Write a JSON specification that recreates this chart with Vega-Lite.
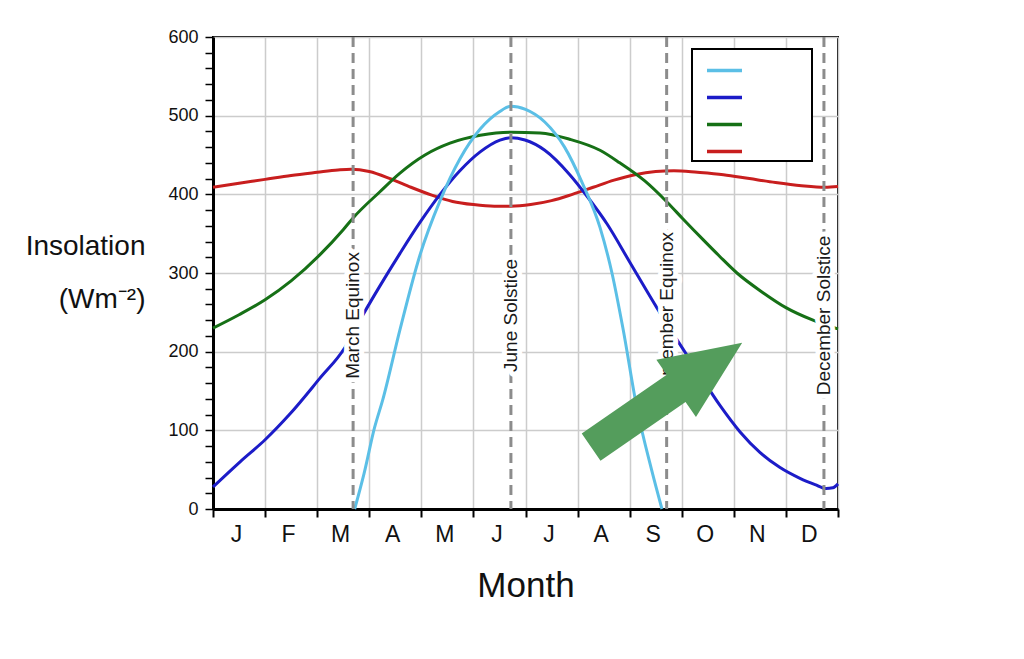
{
  "$schema": "https://vega.github.io/schema/vega-lite/v6.json",
  "width": 625,
  "height": 472,
  "autosize": {"type": "none"},
  "padding": {"left": 213, "top": 37, "right": 186, "bottom": 150},
  "background": "white",
  "config": {
    "font": "Liberation Sans",
    "view": {"stroke": "black", "strokeWidth": 2},
    "legend": {"strokeWidth": 2},
    "axisY": {
      "tickCount": 30,
      "labelExpr": "datum.value % 100 === 0 ? datum.label : ''",
      "labelOverlap": false,
      "labelFontSize": 18,
      "labelColor": "#111111",
      "labelPadding": 7,
      "tickSize": 8,
      "tickColor": "black",
      "tickWidth": 1.5,
      "domainColor": "black",
      "domainWidth": 3,
      "grid": true,
      "gridColor": "#cccccc",
      "gridWidth": 1.5
    }
  },
  "encoding": {
    "x": {
      "field": "month",
      "type": "quantitative",
      "scale": {"domain": [0, 12], "nice": false, "zero": false},
      "axis": {
        "title": "Month",
        "titleFontSize": 35,
        "titleFontWeight": "normal",
        "titleColor": "#111111",
        "titlePadding": 22,
        "values": [0, 1, 2, 3, 4, 5, 6, 7, 8, 9, 10, 11, 12],
        "labelExpr": "['J','F','M','A','M','J','J','A','S','O','N','D',''][datum.value]",
        "labelOffset": 23,
        "labelFlush": false,
        "labelOverlap": false,
        "labelFontSize": 23,
        "labelColor": "#111111",
        "labelPadding": 6,
        "tickSize": 8,
        "tickColor": "black",
        "tickWidth": 2,
        "domainColor": "black",
        "domainWidth": 3,
        "grid": true,
        "gridColor": "#cccccc",
        "gridWidth": 1.5
      }
    }
  },
  "layer": [
    {
      "data": {
        "values": [
          {"lat": "0°", "month": 0, "insolation": 409},
          {"lat": "0°", "month": 0.5, "insolation": 414},
          {"lat": "0°", "month": 1.0, "insolation": 419},
          {"lat": "0°", "month": 1.5, "insolation": 424},
          {"lat": "0°", "month": 2.0, "insolation": 428},
          {"lat": "0°", "month": 2.4, "insolation": 431},
          {"lat": "0°", "month": 2.65, "insolation": 432},
          {"lat": "0°", "month": 3.0, "insolation": 429},
          {"lat": "0°", "month": 3.4, "insolation": 420},
          {"lat": "0°", "month": 3.8, "insolation": 409},
          {"lat": "0°", "month": 4.2, "insolation": 399},
          {"lat": "0°", "month": 4.6, "insolation": 391},
          {"lat": "0°", "month": 5.0, "insolation": 387},
          {"lat": "0°", "month": 5.4, "insolation": 385},
          {"lat": "0°", "month": 5.72, "insolation": 385},
          {"lat": "0°", "month": 6.1, "insolation": 387},
          {"lat": "0°", "month": 6.5, "insolation": 392},
          {"lat": "0°", "month": 6.9, "insolation": 400},
          {"lat": "0°", "month": 7.3, "insolation": 409},
          {"lat": "0°", "month": 7.7, "insolation": 418},
          {"lat": "0°", "month": 8.1, "insolation": 425},
          {"lat": "0°", "month": 8.5, "insolation": 429},
          {"lat": "0°", "month": 8.85, "insolation": 430},
          {"lat": "0°", "month": 9.3, "insolation": 428},
          {"lat": "0°", "month": 9.8, "insolation": 425},
          {"lat": "0°", "month": 10.3, "insolation": 420},
          {"lat": "0°", "month": 10.8, "insolation": 415},
          {"lat": "0°", "month": 11.3, "insolation": 411},
          {"lat": "0°", "month": 11.75, "insolation": 409},
          {"lat": "0°", "month": 12, "insolation": 410},

          {"lat": "30°N", "month": 0, "insolation": 230},
          {"lat": "30°N", "month": 0.5, "insolation": 247},
          {"lat": "30°N", "month": 1.0, "insolation": 266},
          {"lat": "30°N", "month": 1.5, "insolation": 290},
          {"lat": "30°N", "month": 2.05, "insolation": 323},
          {"lat": "30°N", "month": 2.5, "insolation": 355},
          {"lat": "30°N", "month": 2.69, "insolation": 370},
          {"lat": "30°N", "month": 3.2, "insolation": 403},
          {"lat": "30°N", "month": 3.59, "insolation": 427},
          {"lat": "30°N", "month": 4.07, "insolation": 450},
          {"lat": "30°N", "month": 4.55, "insolation": 465},
          {"lat": "30°N", "month": 5.13, "insolation": 475},
          {"lat": "30°N", "month": 5.72, "insolation": 479},
          {"lat": "30°N", "month": 6.28, "insolation": 478},
          {"lat": "30°N", "month": 6.85, "insolation": 470},
          {"lat": "30°N", "month": 7.43, "insolation": 456},
          {"lat": "30°N", "month": 7.81, "insolation": 440},
          {"lat": "30°N", "month": 8.29, "insolation": 417},
          {"lat": "30°N", "month": 8.72, "insolation": 390},
          {"lat": "30°N", "month": 9.02, "insolation": 369},
          {"lat": "30°N", "month": 9.4, "insolation": 343},
          {"lat": "30°N", "month": 9.73, "insolation": 321},
          {"lat": "30°N", "month": 10.06, "insolation": 300},
          {"lat": "30°N", "month": 10.56, "insolation": 275},
          {"lat": "30°N", "month": 11.0, "insolation": 256},
          {"lat": "30°N", "month": 11.52, "insolation": 240},
          {"lat": "30°N", "month": 11.8, "insolation": 233},
          {"lat": "30°N", "month": 12, "insolation": 229},

          {"lat": "60°N", "month": 0, "insolation": 28},
          {"lat": "60°N", "month": 0.52, "insolation": 60},
          {"lat": "60°N", "month": 1.0, "insolation": 88},
          {"lat": "60°N", "month": 1.48, "insolation": 121},
          {"lat": "60°N", "month": 2.05, "insolation": 166},
          {"lat": "60°N", "month": 2.53, "insolation": 205},
          {"lat": "60°N", "month": 2.82, "insolation": 240},
          {"lat": "60°N", "month": 3.2, "insolation": 283},
          {"lat": "60°N", "month": 3.59, "insolation": 325},
          {"lat": "60°N", "month": 3.97, "insolation": 364},
          {"lat": "60°N", "month": 4.36, "insolation": 400},
          {"lat": "60°N", "month": 4.74, "insolation": 430},
          {"lat": "60°N", "month": 5.13, "insolation": 454},
          {"lat": "60°N", "month": 5.51, "insolation": 469},
          {"lat": "60°N", "month": 5.72, "insolation": 472},
          {"lat": "60°N", "month": 5.99, "insolation": 469},
          {"lat": "60°N", "month": 6.37, "insolation": 456},
          {"lat": "60°N", "month": 6.85, "insolation": 425},
          {"lat": "60°N", "month": 7.2, "insolation": 396},
          {"lat": "60°N", "month": 7.57, "insolation": 362},
          {"lat": "60°N", "month": 8.0, "insolation": 314},
          {"lat": "60°N", "month": 8.53, "insolation": 255},
          {"lat": "60°N", "month": 8.91, "insolation": 215},
          {"lat": "60°N", "month": 9.35, "insolation": 170},
          {"lat": "60°N", "month": 9.73, "insolation": 132},
          {"lat": "60°N", "month": 10.12, "insolation": 98},
          {"lat": "60°N", "month": 10.5, "insolation": 72},
          {"lat": "60°N", "month": 10.88, "insolation": 53},
          {"lat": "60°N", "month": 11.27, "insolation": 39},
          {"lat": "60°N", "month": 11.56, "insolation": 31},
          {"lat": "60°N", "month": 11.77, "insolation": 26},
          {"lat": "60°N", "month": 11.9, "insolation": 27},
          {"lat": "60°N", "month": 12, "insolation": 32},

          {"lat": "90°N", "month": 2.72, "insolation": 0},
          {"lat": "90°N", "month": 2.9, "insolation": 45},
          {"lat": "90°N", "month": 3.1, "insolation": 103},
          {"lat": "90°N", "month": 3.26, "insolation": 139},
          {"lat": "90°N", "month": 3.59, "insolation": 228},
          {"lat": "90°N", "month": 3.97, "insolation": 322},
          {"lat": "90°N", "month": 4.36, "insolation": 392},
          {"lat": "90°N", "month": 4.74, "insolation": 445},
          {"lat": "90°N", "month": 5.13, "insolation": 483},
          {"lat": "90°N", "month": 5.5, "insolation": 505},
          {"lat": "90°N", "month": 5.72, "insolation": 512},
          {"lat": "90°N", "month": 6.0, "insolation": 508},
          {"lat": "90°N", "month": 6.37, "insolation": 492},
          {"lat": "90°N", "month": 6.75, "insolation": 460},
          {"lat": "90°N", "month": 7.1, "insolation": 413},
          {"lat": "90°N", "month": 7.43, "insolation": 358},
          {"lat": "90°N", "month": 7.66, "insolation": 300},
          {"lat": "90°N", "month": 7.87, "insolation": 230},
          {"lat": "90°N", "month": 8.14, "insolation": 128},
          {"lat": "90°N", "month": 8.42, "insolation": 50},
          {"lat": "90°N", "month": 8.62, "insolation": 0}
        ]
      },
      "mark": {"type": "line", "strokeWidth": 3, "interpolate": "monotone"},
      "encoding": {
        "y": {
          "field": "insolation",
          "type": "quantitative",
          "scale": {"domain": [0, 600], "nice": false, "zero": true},
          "axis": {
            "title": ["Insolation", "(Wm⁻²)"],
            "titleAngle": 0,
            "titleAlign": "right",
            "titleBaseline": "middle",
            "titleX": -68,
            "titleY": 209,
            "titleFontSize": 28,
            "titleFontWeight": "normal",
            "titleLineHeight": 53,
            "titleColor": "#111111",
            "gridOpacity": {"condition": {"test": "datum.value % 100 === 0", "value": 1}, "value": 0}
          }
        },
        "color": {
          "field": "lat",
          "type": "nominal",
          "scale": {
            "domain": ["90°N", "60°N", "30°N", "0°"],
            "range": ["#5bbfe6", "#1c1cc8", "#167016", "#c81e1e"]
          },
          "legend": {
            "orient": "none",
            "legendX": 479,
            "legendY": 12,
            "title": null,
            "symbolType": "stroke",
            "symbolSize": 1225,
            "symbolStrokeWidth": 3.5,
            "rowPadding": 0,
            "padding": 2,
            "symbolOffset": 11,
            "labelColor": "white",
            "labelFontSize": 14,
            "labelOffset": 34,
            "strokeColor": "black",
            "fillColor": "white"
          }
        }
      }
    },
    {
      "data": {
        "values": [
          {"event": "March Equinox", "month": 2.69},
          {"event": "June Solstice", "month": 5.72},
          {"event": "September Equinox", "month": 8.71},
          {"event": "December Solstice", "month": 11.73}
        ]
      },
      "layer": [
        {
          "mark": {"type": "rule", "color": "#8c8c8c", "strokeWidth": 3, "strokeDash": [10, 6]},
          "encoding": {}
        },
        {
          "mark": {"type": "text", "angle": 270, "align": "center", "baseline": "middle", "fontSize": 19, "fill": "white", "stroke": "white", "strokeWidth": 10, "strokeJoin": "round"},
          "encoding": {
            "y": {"datum": 246},
            "text": {"field": "event", "type": "nominal"}
          }
        },
        {
          "mark": {"type": "text", "angle": 270, "align": "center", "baseline": "middle", "fontSize": 19, "fill": "#1a1a1a"},
          "encoding": {
            "y": {"datum": 246},
            "text": {"field": "event", "type": "nominal"}
          }
        },
        {
          "transform": [{"filter": "datum.event === 'September Equinox'"}],
          "mark": {
            "type": "point",
            "shape": "M -1 -0.18 L 0.126 -0.18 L 0.126 -0.38 L 1 0 L 0.126 0.38 L 0.126 0.18 L -1 0.18 Z",
            "size": 33672,
            "angle": 325.4,
            "filled": true,
            "color": "#549d5c",
            "opacity": 1
          },
          "encoding": {
            "y": {"datum": 145}
          }
        }
      ]
    }
  ]
}
